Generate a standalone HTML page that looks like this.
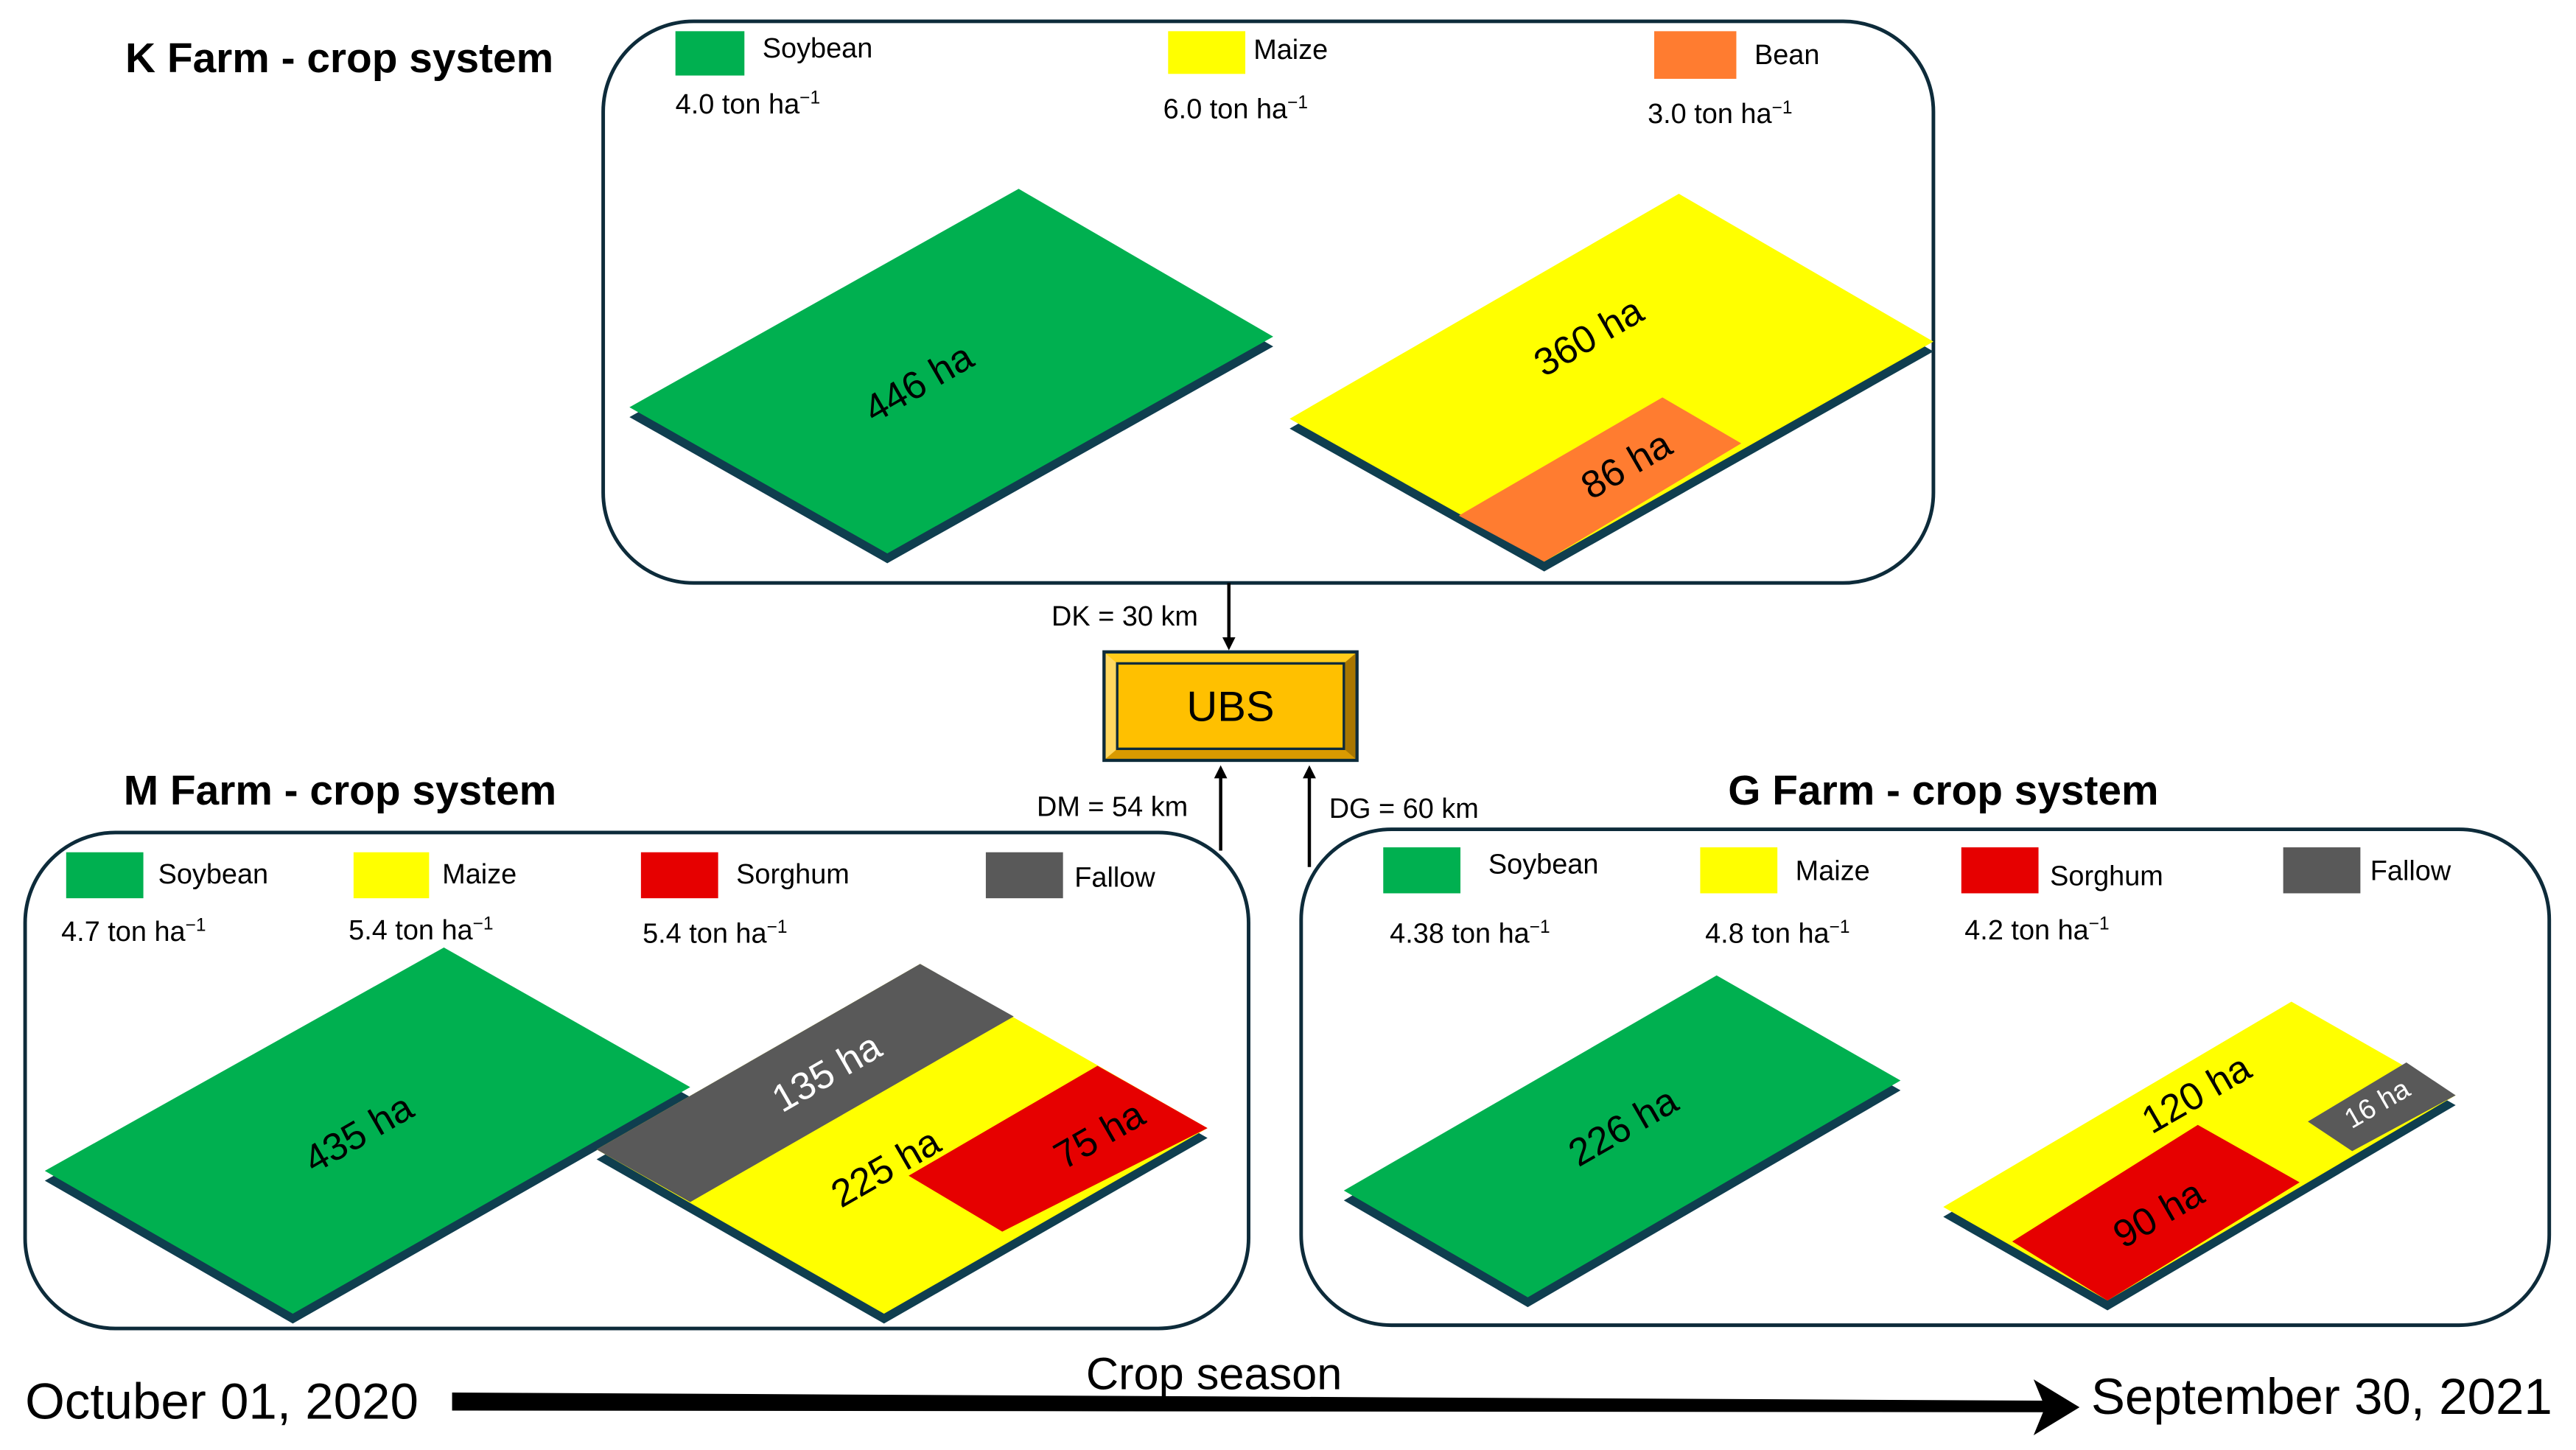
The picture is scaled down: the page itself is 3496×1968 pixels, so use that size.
<!DOCTYPE html>
<html><head><meta charset="utf-8"><style>
html,body{margin:0;padding:0;background:#fff;width:3496px;height:1968px;overflow:hidden}
svg{display:block}
text{font-family:"Liberation Sans",Arial,sans-serif}
</style></head><body>
<svg width="3496" height="1968" viewBox="0 0 1568 883" xmlns="http://www.w3.org/2000/svg">
<defs>
<marker id="ah" markerWidth="8" markerHeight="8" refX="4" refY="4" orient="auto" markerUnits="userSpaceOnUse"><path d="M0,0 L8,4 L0,8 Z" fill="#000"/></marker>
</defs>
<g fill="none" stroke="#0d2b3a" stroke-width="2.2">
<rect x="367" y="13" width="810" height="342" rx="55"/>
<rect x="15" y="507" width="745" height="302" rx="55"/>
<rect x="792" y="505" width="760" height="302" rx="55"/>
</g>
<g font-weight="bold" font-size="25.5" fill="#000">
<text x="76" y="44">K Farm - crop system</text>
<text x="75" y="490">M Farm - crop system</text>
<text x="1052" y="490">G Farm - crop system</text>
</g>
<g font-size="17" fill="#000">
<rect x="411" y="19" width="42" height="27" fill="#00b050"/><text x="464" y="35">Soybean</text>
<text x="411" y="69">4.0 ton ha<tspan font-size="11" dy="-6">−1</tspan></text>
<rect x="711" y="19" width="47" height="26" fill="#ffff00"/><text x="763" y="36">Maize</text>
<text x="708" y="72">6.0 ton ha<tspan font-size="11" dy="-6">−1</tspan></text>
<rect x="1007" y="19" width="50" height="29" fill="#ff7c30"/><text x="1068" y="39">Bean</text>
<text x="1003" y="75">3.0 ton ha<tspan font-size="11" dy="-6">−1</tspan></text>
<rect x="40" y="519" width="47" height="28" fill="#00b050"/><text x="96" y="538">Soybean</text>
<text x="37" y="573">4.7 ton ha<tspan font-size="11" dy="-6">−1</tspan></text>
<rect x="215" y="519" width="46" height="28" fill="#ffff00"/><text x="269" y="538">Maize</text>
<text x="212" y="572">5.4 ton ha<tspan font-size="11" dy="-6">−1</tspan></text>
<rect x="390" y="519" width="47" height="28" fill="#e60000"/><text x="448" y="538">Sorghum</text>
<text x="391" y="574">5.4 ton ha<tspan font-size="11" dy="-6">−1</tspan></text>
<rect x="600" y="519" width="47" height="28" fill="#595959"/><text x="654" y="540">Fallow</text>
<rect x="842" y="516" width="47" height="28" fill="#00b050"/><text x="906" y="532">Soybean</text>
<text x="846" y="574">4.38 ton ha<tspan font-size="11" dy="-6">−1</tspan></text>
<rect x="1035" y="516" width="47" height="28" fill="#ffff00"/><text x="1093" y="536">Maize</text>
<text x="1038" y="574">4.8 ton ha<tspan font-size="11" dy="-6">−1</tspan></text>
<rect x="1194" y="516" width="47" height="28" fill="#e60000"/><text x="1248" y="539">Sorghum</text>
<text x="1196" y="572">4.2 ton ha<tspan font-size="11" dy="-6">−1</tspan></text>
<rect x="1390" y="516" width="47" height="28" fill="#595959"/><text x="1443" y="536">Fallow</text>
</g>
<g>
<polygon points="620,121 775,211 540,343 383,254" fill="#0f3e4f"/>
<polygon points="620,115 775,205 540,337 383,248" fill="#00b050"/>
<polygon points="1022,124 1177,214 940,348 785,261" fill="#0f3e4f"/>
<polygon points="1022,118 1177,208 940,342 785,255" fill="#ffff00"/>
<polygon points="1012,242 1060,270 940,342 888,314" fill="#ff7c30"/>
<polygon points="270,583 420,668 178,806 27,719" fill="#0f3e4f"/>
<polygon points="270,577 420,662 178,800 27,713" fill="#00b050"/>
<polygon points="560,593 735,693 538,806 363,706" fill="#0f3e4f"/>
<polygon points="560,587 735,687 538,800 363,700" fill="#ffff00"/>
<polygon points="560,587 617,619 420,732 363,700" fill="#595959"/>
<polygon points="668,649 735,687 610,750 553,716" fill="#e60000"/>
<polygon points="1045,600 1157,664 930,796 818,731" fill="#0f3e4f"/>
<polygon points="1045,594 1157,658 930,790 818,725" fill="#00b050"/>
<polygon points="1395,616 1495,673 1283,798 1183,741" fill="#0f3e4f"/>
<polygon points="1395,610 1495,667 1283,792 1183,735" fill="#ffff00"/>
<polygon points="1465,647 1495,667 1432,701 1405,683" fill="#595959"/>
<polygon points="1338,685 1400,720 1283,792 1225,756" fill="#e60000"/>
</g>
<g font-size="23.5" fill="#000" text-anchor="middle">
<text transform="translate(563,240) rotate(-30)">446 ha</text>
<text transform="translate(971,212) rotate(-30)">360 ha</text>
<text transform="translate(994,290) rotate(-30)">86 ha</text>
<text transform="translate(222,697) rotate(-30)">435 ha</text>
<text transform="translate(507,660) rotate(-30)" fill="#fff">135 ha</text>
<text transform="translate(543,718) rotate(-30)">225 ha</text>
<text transform="translate(673,698) rotate(-30)">75 ha</text>
<text transform="translate(992,693) rotate(-30)">226 ha</text>
<text transform="translate(1341,673) rotate(-30)">120 ha</text>
<text transform="translate(1318,746) rotate(-30)">90 ha</text>
<text transform="translate(1450,677) rotate(-30)" font-size="17" fill="#fff">16 ha</text>
</g>
<rect x="672" y="397" width="154" height="66" fill="#ffc000" stroke="#0d2b3a" stroke-width="2"/>
<polygon points="673,398 825,398 818,404 680,404" fill="#ffcc1a"/>
<polygon points="673,462 825,462 818,456 680,456" fill="#d99a00"/>
<polygon points="673,398 680,404 680,456 673,462" fill="#ffd860"/>
<polygon points="825,398 818,404 818,456 825,462" fill="#a87600"/>
<rect x="680" y="404" width="138" height="52" fill="#ffc000" stroke="#0d2b3a" stroke-width="1.5"/>
<text x="749" y="439" font-size="26" text-anchor="middle" fill="#000">UBS</text>
<g stroke="#000" stroke-width="2" fill="none">
<line x1="748" y1="355" x2="748" y2="392" marker-end="url(#ah)"/>
<line x1="743" y1="518" x2="743" y2="470" marker-end="url(#ah)"/>
<line x1="797" y1="528" x2="797" y2="470" marker-end="url(#ah)"/>
</g>
<g font-size="17" fill="#000">
<text x="640" y="381">DK = 30 km</text>
<text x="631" y="497">DM = 54 km</text>
<text x="809" y="498">DG = 60 km</text>
</g>
<polygon points="275,848 1255,853 1255,860 275,859" fill="#000"/>
<path d="M1238,840 L1266,857 L1238,874 L1245,857 Z" fill="#000"/>
<text x="15" y="864" font-size="31" fill="#000">Octuber 01, 2020</text>
<text x="1273" y="861" font-size="31" fill="#000">September  30, 2021</text>
<text x="661" y="846" font-size="27.5" fill="#000">Crop season</text>
</svg>
</body></html>
